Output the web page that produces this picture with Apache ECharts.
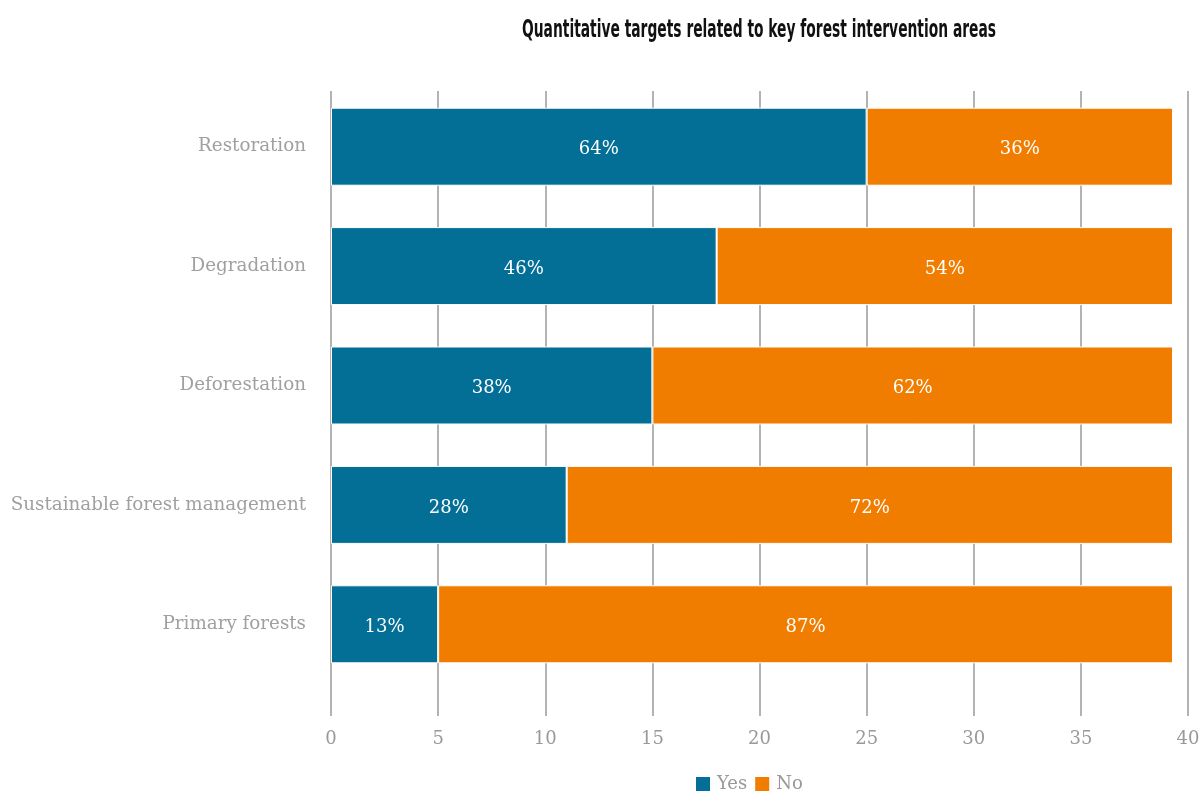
<!DOCTYPE html>
<html>
<head>
<meta charset="utf-8">
<script src="https://cdn.jsdelivr.net/npm/echarts@6/dist/echarts.min.js"></script>
<style>
  html, body { margin: 0; padding: 0; background: #ffffff; }
  #chart { width: 1204px; height: 791px; }
</style>
</head>
<body>
<div id="chart"></div>
<script>
// Intervention areas, top to bottom
const categories = ['Restoration', 'Degradation', 'Deforestation', 'Sustainable forest management', 'Primary forests'];
// Number of countries with / without quantitative targets
const yesValues = [25, 18, 15, 11, 5];
const noValues = [14.3, 21.3, 24.3, 28.3, 34.3];
const seriesNames = ['Yes', 'No'];
const xTicks = { min: 0, max: 40, interval: 5 };
const titleText = 'Quantitative targets related to key forest intervention areas';

const serif = '"DejaVu Serif", "Liberation Serif", serif';
const titleFont = 'bold 25px "DejaVu Sans Condensed", "Liberation Sans Narrow", sans-serif';
const totals = yesValues.map((v, i) => v + noValues[i]);
const pct = (v, i) => Math.round(v / totals[i] * 100) + '%';

// Squeeze the heading into a tall, narrow display face
const measure = document.createElement('canvas').getContext('2d');
measure.font = titleFont;
const titleScale = 474 / measure.measureText(titleText).width;

const chart = echarts.init(document.getElementById('chart'));
chart.setOption({
  animation: false,
  backgroundColor: '#ffffff',
  graphic: [{
    type: 'text',
    x: 759, y: 18,
    scaleX: titleScale,
    style: {
      text: titleText,
      font: titleFont,
      fill: '#111111',
      align: 'center',
      verticalAlign: 'top'
    }
  }],
  legend: {
    bottom: -2, left: 694, padding: 0,
    itemWidth: 16, itemHeight: 16, itemGap: 6,
    icon: 'rect',
    textStyle: { fontFamily: serif, fontSize: 18, color: '#999999', padding: [0, 0, 0, 1] },
    data: seriesNames
  },
  grid: [
    { left: 331, right: 16, top: 91, bottom: 75 },
    { left: 331, right: 16, top: 87, bottom: 107 }
  ],
  xAxis: [
    {
      gridIndex: 0, type: 'value', min: xTicks.min, max: xTicks.max, interval: xTicks.interval,
      axisLine: { show: false }, axisTick: { show: false },
      splitLine: { show: true, lineStyle: { color: '#b3b3b3', width: 2 } },
      axisLabel: { fontFamily: serif, fontSize: 18, color: '#999999', margin: 14 }
    },
    {
      gridIndex: 1, type: 'value', min: xTicks.min, max: xTicks.max, interval: xTicks.interval,
      show: false, splitLine: { show: false }
    }
  ],
  yAxis: [
    { gridIndex: 0, type: 'category', data: categories, show: false },
    {
      gridIndex: 1, type: 'category', data: categories, inverse: true,
      axisLine: { show: false }, axisTick: { show: false },
      axisLabel: { fontFamily: serif, fontSize: 18.3, color: '#a0a0a0', margin: 25, padding: [4, 0, 0, 0] }
    }
  ],
  series: [
    {
      name: seriesNames[0], type: 'bar', stack: 'total', xAxisIndex: 1, yAxisIndex: 1,
      data: yesValues, barWidth: 78,
      itemStyle: { color: '#036f96', borderColor: '#ffffff', borderWidth: 1 },
      label: { show: true, position: 'inside', offset: [0, 3], formatter: p => pct(p.value, p.dataIndex), fontFamily: serif, fontSize: 18, color: '#ffffff' }
    },
    {
      name: seriesNames[1], type: 'bar', stack: 'total', xAxisIndex: 1, yAxisIndex: 1,
      data: noValues, barWidth: 78,
      itemStyle: { color: '#f07d00', borderColor: '#ffffff', borderWidth: 1 },
      label: { show: true, position: 'inside', offset: [0, 3], formatter: p => pct(p.value, p.dataIndex), fontFamily: serif, fontSize: 18, color: '#ffffff' }
    }
  ]
});
</script>
</body>
</html>
